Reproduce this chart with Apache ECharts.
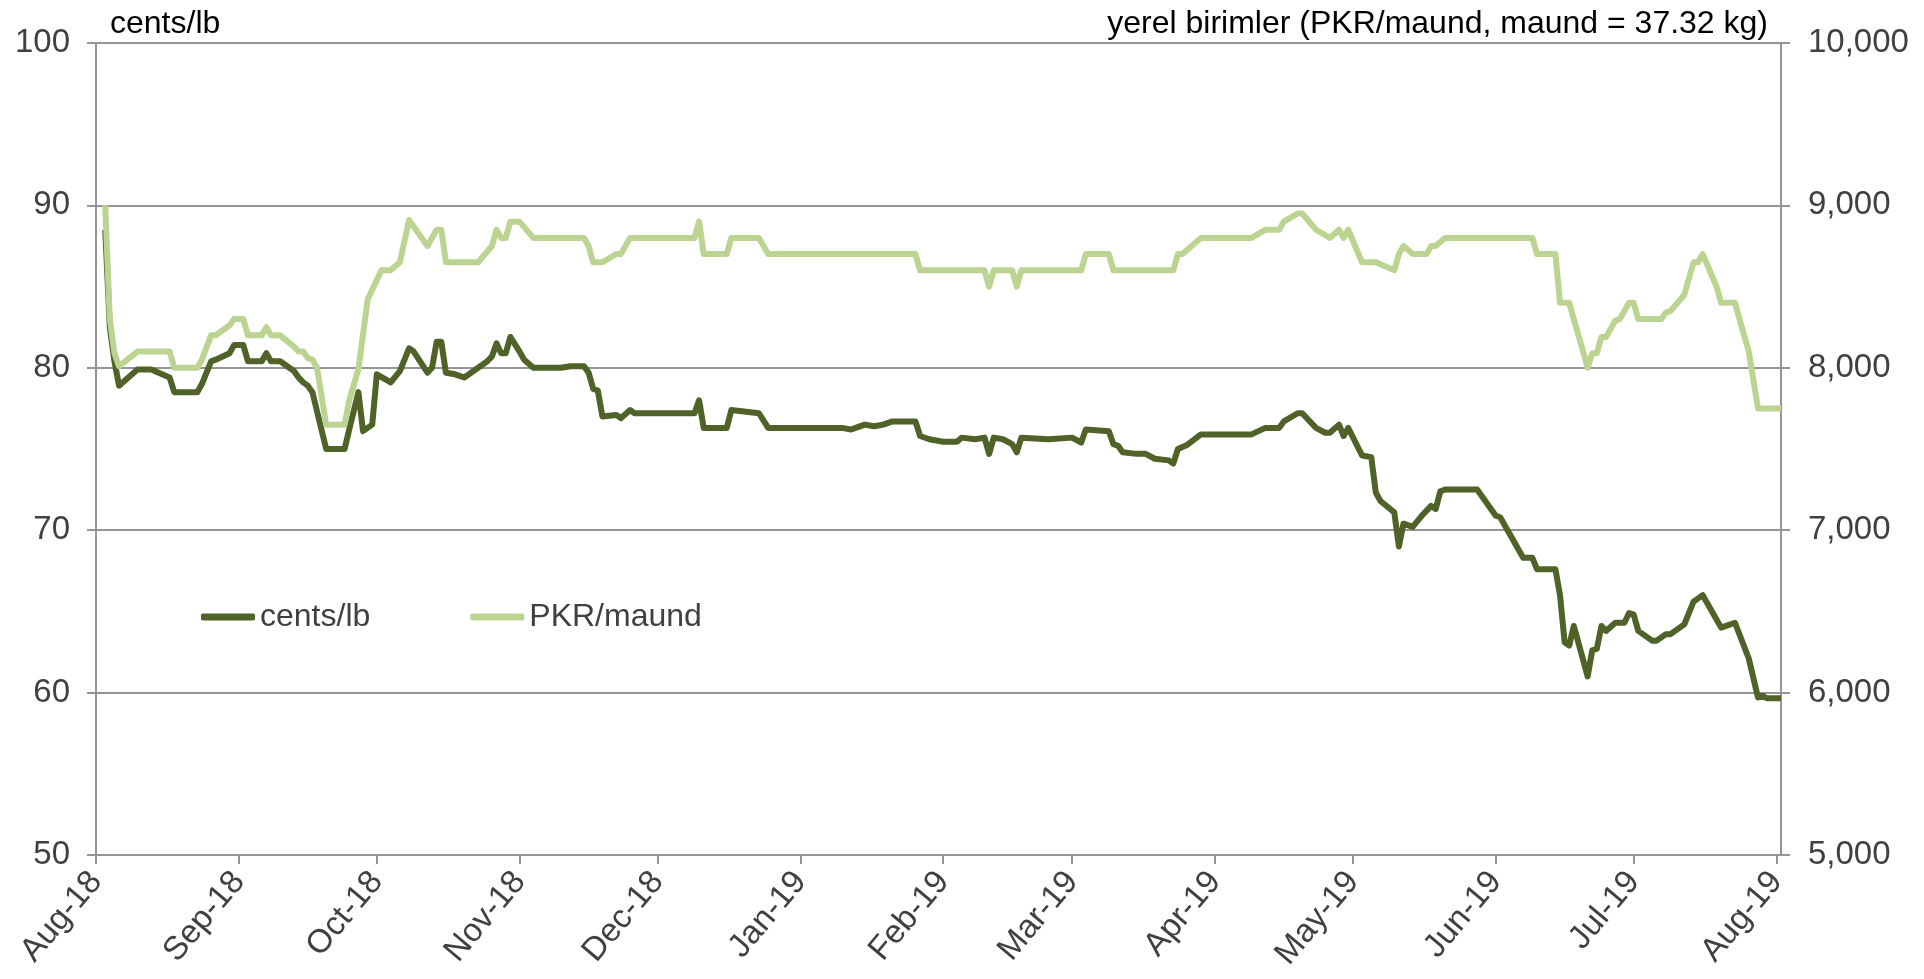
<!DOCTYPE html>
<html>
<head>
<meta charset="utf-8">
<title>cents/lb - PKR/maund</title>
<script src="https://cdn.jsdelivr.net/npm/echarts@6/dist/echarts.min.js"></script>
<style>
  html, body { margin: 0; padding: 0; background: #fff; }
  #main { width: 1924px; height: 979px; }
</style>
</head>
<body>
<div id="main"></div>
<script>
// x axis months
var monthTicks = ['2018-08-01', '2018-09-01', '2018-10-01', '2018-11-01', '2018-12-01', '2019-01-01',
    '2019-02-01', '2019-03-01', '2019-04-01', '2019-05-01', '2019-06-01', '2019-07-01', '2019-08-01'];
var monthLabels = ['Aug-18', 'Sep-18', 'Oct-18', 'Nov-18', 'Dec-18', 'Jan-19',
    'Feb-19', 'Mar-19', 'Apr-19', 'May-19', 'Jun-19', 'Jul-19', 'Aug-19'];

// cents/lb (left axis)
var centsDates = ['2018-08-03', '2018-08-04', '2018-08-05', '2018-08-06', '2018-08-10', '2018-08-13', '2018-08-17',
    '2018-08-18', '2018-08-23', '2018-08-24', '2018-08-26', '2018-08-27', '2018-08-30', '2018-08-31', '2018-09-02',
    '2018-09-03', '2018-09-06', '2018-09-07', '2018-09-08', '2018-09-10', '2018-09-13', '2018-09-14', '2018-09-15',
    '2018-09-16', '2018-09-17', '2018-09-20', '2018-09-24', '2018-09-25', '2018-09-27', '2018-09-28', '2018-09-30',
    '2018-10-01', '2018-10-04', '2018-10-06', '2018-10-08', '2018-10-09', '2018-10-12', '2018-10-13', '2018-10-14',
    '2018-10-15', '2018-10-16', '2018-10-18', '2018-10-20', '2018-10-21', '2018-10-25', '2018-10-26', '2018-10-27',
    '2018-10-28', '2018-10-29', '2018-10-30', '2018-11-01', '2018-11-02', '2018-11-04', '2018-11-10', '2018-11-12',
    '2018-11-15', '2018-11-16', '2018-11-17', '2018-11-18', '2018-11-19', '2018-11-22', '2018-11-23', '2018-11-25',
    '2018-11-26', '2018-12-09', '2018-12-10', '2018-12-11', '2018-12-16', '2018-12-17', '2018-12-23', '2018-12-25',
    '2019-01-10', '2019-01-12', '2019-01-13', '2019-01-15', '2019-01-17', '2019-01-19', '2019-01-21', '2019-01-26',
    '2019-01-27', '2019-01-29', '2019-02-01', '2019-02-04', '2019-02-05', '2019-02-08', '2019-02-10', '2019-02-11',
    '2019-02-12', '2019-02-14', '2019-02-16', '2019-02-17', '2019-02-18', '2019-02-24', '2019-03-01', '2019-03-03',
    '2019-03-04', '2019-03-09', '2019-03-10', '2019-03-11', '2019-03-12', '2019-03-15', '2019-03-17', '2019-03-19',
    '2019-03-22', '2019-03-23', '2019-03-24', '2019-03-26', '2019-03-29', '2019-04-09', '2019-04-12', '2019-04-15',
    '2019-04-16', '2019-04-19', '2019-04-20', '2019-04-23', '2019-04-25', '2019-04-26', '2019-04-28', '2019-04-29',
    '2019-04-30', '2019-05-03', '2019-05-05', '2019-05-06', '2019-05-07', '2019-05-10', '2019-05-11', '2019-05-12',
    '2019-05-14', '2019-05-16', '2019-05-18', '2019-05-19', '2019-05-20', '2019-05-21', '2019-05-28', '2019-06-01',
    '2019-06-02', '2019-06-07', '2019-06-09', '2019-06-10', '2019-06-14', '2019-06-15', '2019-06-16', '2019-06-17',
    '2019-06-18', '2019-06-21', '2019-06-22', '2019-06-23', '2019-06-24', '2019-06-25', '2019-06-27', '2019-06-29',
    '2019-06-30', '2019-07-01', '2019-07-02', '2019-07-05', '2019-07-06', '2019-07-08', '2019-07-09', '2019-07-12',
    '2019-07-14', '2019-07-16', '2019-07-20', '2019-07-23', '2019-07-26', '2019-07-28', '2019-07-29', '2019-07-30',
    '2019-08-02'];
var centsValues = [88.5, 82.5, 80.4, 78.9, 79.9, 79.9, 79.4,
    78.5, 78.5, 79.0, 80.4, 80.5, 80.9, 81.4, 81.4,
    80.4, 80.4, 80.9, 80.4, 80.4, 79.8, 79.4, 79.1,
    78.9, 78.5, 75.0, 75.0, 76.2, 78.5, 76.1, 76.5,
    79.6, 79.1, 79.8, 81.2, 81.0, 79.7, 80.0, 81.6,
    81.6, 79.7, 79.6, 79.4, 79.6, 80.4, 80.7, 81.5,
    80.9, 80.9, 81.9, 81.0, 80.5, 80.0, 80.0, 80.1,
    80.1, 79.7, 78.7, 78.6, 77.0, 77.1, 76.9, 77.4,
    77.2, 77.2, 78.0, 76.3, 76.3, 77.4, 77.2, 76.3,
    76.3, 76.2, 76.3, 76.5, 76.4, 76.5, 76.7, 76.7,
    75.8, 75.6, 75.45, 75.45, 75.7, 75.6, 75.7, 74.7,
    75.7, 75.6, 75.3, 74.8, 75.7, 75.6, 75.7, 75.4,
    76.2, 76.1, 75.3, 75.2, 74.8, 74.7, 74.7, 74.4,
    74.3, 74.1, 75.0, 75.25, 75.9, 75.9, 76.3, 76.3,
    76.7, 77.2, 77.2, 76.3, 76.0, 76.0, 76.5, 75.8,
    76.3, 74.6, 74.5, 72.3, 71.8, 71.1, 69.0, 70.4,
    70.2, 70.9, 71.5, 71.3, 72.4, 72.5, 72.5, 70.9,
    70.8, 68.3, 68.3, 67.6, 67.6, 66.0, 63.1, 62.9,
    64.1, 61.0, 62.6, 62.7, 64.1, 63.8, 64.3, 64.3,
    64.9, 64.8, 63.8, 63.2, 63.2, 63.6, 63.6, 64.2,
    65.6, 66.0, 64.0, 64.3, 62.1, 59.7, 59.8, 59.65,
    59.65];

// PKR/maund (right axis)
var pkrDates = ['2018-08-03', '2018-08-04', '2018-08-05', '2018-08-06', '2018-08-10', '2018-08-17', '2018-08-18',
    '2018-08-23', '2018-08-24', '2018-08-26', '2018-08-27', '2018-08-30', '2018-08-31', '2018-09-02', '2018-09-03',
    '2018-09-06', '2018-09-07', '2018-09-08', '2018-09-10', '2018-09-13', '2018-09-14', '2018-09-15', '2018-09-16',
    '2018-09-17', '2018-09-18', '2018-09-20', '2018-09-24', '2018-09-25', '2018-09-27', '2018-09-29', '2018-10-02',
    '2018-10-04', '2018-10-06', '2018-10-08', '2018-10-12', '2018-10-14', '2018-10-15', '2018-10-16', '2018-10-23',
    '2018-10-26', '2018-10-27', '2018-10-28', '2018-10-29', '2018-10-30', '2018-11-01', '2018-11-04', '2018-11-15',
    '2018-11-16', '2018-11-17', '2018-11-19', '2018-11-22', '2018-11-23', '2018-11-25', '2018-12-09', '2018-12-10',
    '2018-12-11', '2018-12-16', '2018-12-17', '2018-12-23', '2018-12-25', '2019-01-26', '2019-01-27', '2019-02-10',
    '2019-02-11', '2019-02-12', '2019-02-16', '2019-02-17', '2019-02-18', '2019-03-03', '2019-03-04', '2019-03-09',
    '2019-03-10', '2019-03-23', '2019-03-24', '2019-03-25', '2019-03-29', '2019-04-09', '2019-04-12', '2019-04-15',
    '2019-04-16', '2019-04-19', '2019-04-20', '2019-04-23', '2019-04-26', '2019-04-28', '2019-04-29', '2019-04-30',
    '2019-05-03', '2019-05-06', '2019-05-10', '2019-05-11', '2019-05-12', '2019-05-14', '2019-05-17', '2019-05-18',
    '2019-05-19', '2019-05-21', '2019-06-09', '2019-06-10', '2019-06-14', '2019-06-15', '2019-06-17', '2019-06-21',
    '2019-06-22', '2019-06-23', '2019-06-24', '2019-06-25', '2019-06-27', '2019-06-28', '2019-06-30', '2019-07-01',
    '2019-07-02', '2019-07-07', '2019-07-08', '2019-07-09', '2019-07-12', '2019-07-14', '2019-07-15', '2019-07-16',
    '2019-07-19', '2019-07-20', '2019-07-23', '2019-07-26', '2019-07-28', '2019-08-02'];
var pkrValues = [9000, 8300, 8090, 8010, 8100, 8100, 8000,
    8000, 8050, 8200, 8200, 8260, 8300, 8300, 8200,
    8200, 8250, 8200, 8200, 8130, 8100, 8100, 8060,
    8050, 8000, 7650, 7650, 7800, 7990, 8420, 8600,
    8600, 8650, 8910, 8750, 8850, 8850, 8650, 8650,
    8750, 8850, 8800, 8800, 8900, 8900, 8800, 8800,
    8750, 8650, 8650, 8700, 8700, 8800, 8800, 8900,
    8700, 8700, 8800, 8800, 8700, 8700, 8600, 8600,
    8500, 8600, 8600, 8500, 8600, 8600, 8700, 8700,
    8600, 8600, 8700, 8700, 8800, 8800, 8850, 8850,
    8900, 8950, 8950, 8850, 8800, 8850, 8800, 8850,
    8650, 8650, 8600, 8700, 8750, 8700, 8700, 8750,
    8750, 8800, 8800, 8700, 8700, 8400, 8400, 8000,
    8090, 8090, 8190, 8190, 8290, 8300, 8400, 8400,
    8300, 8300, 8340, 8350, 8450, 8650, 8650, 8700,
    8500, 8400, 8400, 8100, 7750, 7750];

var font = "'Liberation Sans', Arial, sans-serif";
var gridColor = '#959595';

// 'YYYY-MM-DD' -> local timestamp
function toTime(s) {
    var p = s.split('-');
    return new Date(+p[0], +p[1] - 1, +p[2]).getTime();
}

function pairs(dates, values) {
    var out = [];
    for (var i = 0; i < dates.length; i++) {
        out.push([toTime(dates[i]), values[i]]);
    }
    return out;
}

var monthTimes = monthTicks.map(toTime);

var myChart = echarts.init(document.getElementById('main'));

var option = {
    animation: false,
    backgroundColor: '#ffffff',
    textStyle: { fontFamily: font },
    title: [{
        text: 'cents/lb',
        left: 110,
        top: 8,
        padding: 0,
        textStyle: { fontFamily: font, fontSize: 32, fontWeight: 'normal', color: '#000000' }
    }, {
        text: 'yerel birimler (PKR/maund, maund = 37.32 kg)',
        right: 156,
        top: 8,
        padding: 0,
        textStyle: { fontFamily: font, fontSize: 32, fontWeight: 'normal', color: '#000000' }
    }],
    legend: {
        data: ['cents/lb', 'PKR/maund'],
        left: 201,
        top: 601,
        padding: 0,
        icon: 'roundRect',
        itemWidth: 54,
        itemHeight: 7,
        itemGap: 100,
        textStyle: { fontFamily: font, fontSize: 32, color: '#404040' }
    },
    grid: {
        left: 96,
        right: 143,
        top: 43,
        bottom: 124
    },
    // timestamps on a value axis so the month ticks can be placed exactly
    xAxis: {
        type: 'value',
        min: toTime('2018-08-01'),
        max: toTime('2019-08-02'),
        axisLine: { show: true, lineStyle: { color: gridColor, width: 2 } },
        axisTick: {
            show: true,
            length: 9,
            customValues: monthTimes,
            lineStyle: { color: gridColor, width: 2 }
        },
        axisLabel: {
            customValues: monthTimes,
            rotate: 50,
            margin: 21,
            fontFamily: font,
            fontSize: 33,
            color: '#404040',
            formatter: function(value) {
                var i = monthTimes.indexOf(value);
                return i >= 0 ? monthLabels[i] : '';
            }
        },
        splitLine: { show: false }
    },
    yAxis: [{
        type: 'value',
        min: 50,
        max: 100,
        interval: 10,
        position: 'left',
        axisLine: { show: true, lineStyle: { color: gridColor, width: 2 } },
        axisTick: { show: true, length: 9, lineStyle: { color: gridColor, width: 2 } },
        axisLabel: { margin: 26, fontFamily: font, fontSize: 33, color: '#404040' },
        splitLine: { show: true, lineStyle: { color: gridColor, width: 2 } }
    }, {
        type: 'value',
        min: 5000,
        max: 10000,
        interval: 1000,
        position: 'right',
        axisLine: { show: true, lineStyle: { color: gridColor, width: 2 } },
        axisTick: { show: true, length: 9, lineStyle: { color: gridColor, width: 2 } },
        axisLabel: {
            margin: 27,
            fontFamily: font,
            fontSize: 33,
            color: '#404040',
            formatter: function(v) {
                return String(v).replace(/\B(?=(\d{3})+(?!\d))/g, ',');
            }
        },
        splitLine: { show: false }
    }],
    series: [{
        name: 'cents/lb',
        type: 'line',
        yAxisIndex: 0,
        showSymbol: false,
        data: pairs(centsDates, centsValues),
        itemStyle: { color: '#4f6228' },
        lineStyle: { color: '#4f6228', width: 6, join: 'round' }
    }, {
        name: 'PKR/maund',
        type: 'line',
        yAxisIndex: 1,
        showSymbol: false,
        data: pairs(pkrDates, pkrValues),
        itemStyle: { color: '#bcd491' },
        lineStyle: { color: '#bcd491', width: 6, join: 'round' }
    }]
};

myChart.setOption(option);
window.onresize = function() {
    myChart.resize();
};
</script>
</body>
</html>
